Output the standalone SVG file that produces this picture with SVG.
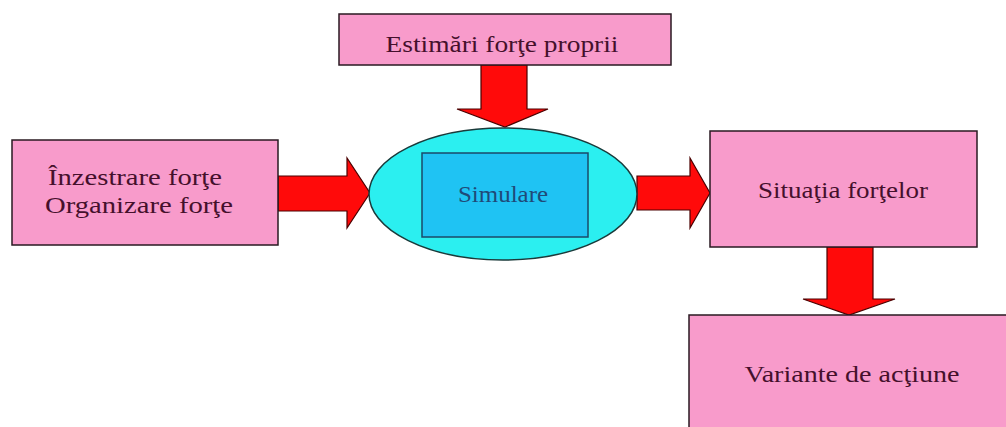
<svg xmlns="http://www.w3.org/2000/svg" width="1006" height="427" viewBox="0 0 1006 427">
  <style>
    .box { fill: #f89bcb; stroke: #2a1a22; stroke-width: 1.5; }
    .txt { font-family: "Liberation Serif", "Times New Roman", serif; font-size: 24px; fill: #45102c; text-anchor: middle; }
    .arrow { fill: #ff0a0a; stroke: #4a0000; stroke-width: 1.2; stroke-linejoin: miter; }
  </style>
  <rect x="0" y="0" width="1006" height="427" fill="#ffffff"/>
  <g id="connectors">
    <polygon class="arrow" points="481,65 527,65 527,109 548,109 505,127 457,109 481,109"/>
    <polygon class="arrow" points="278,176 347,176 347,158 370,193 347,228 347,211 278,211"/>
    <polygon class="arrow" points="637,176 690,176 690,158 710,193 690,228 690,210 637,210"/>
    <polygon class="arrow" points="827,247 873,247 873,299 895,299 849,315 803,299 827,299"/>
  </g>
  <g id="estimari">
    <rect class="box" x="339" y="14" width="332" height="51"/>
    <text class="txt" x="502" y="52" textLength="233" lengthAdjust="spacingAndGlyphs">Estimări forţe proprii</text>
  </g>
  <g id="inzestrare">
    <rect class="box" x="12" y="140" width="266" height="105"/>
    <text class="txt" x="135" y="185" textLength="174" lengthAdjust="spacingAndGlyphs">Înzestrare forţe</text>
    <text class="txt" x="139" y="213" textLength="188" lengthAdjust="spacingAndGlyphs">Organizare  forţe</text>
  </g>
  <g id="simulare">
    <ellipse cx="503" cy="194" rx="134" ry="66" fill="#2beff0" stroke="#1a3a3a" stroke-width="1.5"/>
    <rect x="422" y="153" width="166" height="84" fill="#1fc3f3" stroke="#1b4a6a" stroke-width="1.5"/>
    <text class="txt" x="503" y="202" textLength="90" lengthAdjust="spacingAndGlyphs" style="fill:#1f4a78">Simulare</text>
  </g>
  <g id="situatia">
    <rect class="box" x="710" y="131" width="267" height="116"/>
    <text class="txt" x="843" y="198" textLength="170" lengthAdjust="spacingAndGlyphs">Situaţia forţelor</text>
  </g>
  <g id="variante">
    <rect class="box" x="689" y="315" width="340" height="130"/>
    <text class="txt" x="852" y="382" textLength="215" lengthAdjust="spacingAndGlyphs">Variante  de acţiune</text>
  </g>
</svg>
